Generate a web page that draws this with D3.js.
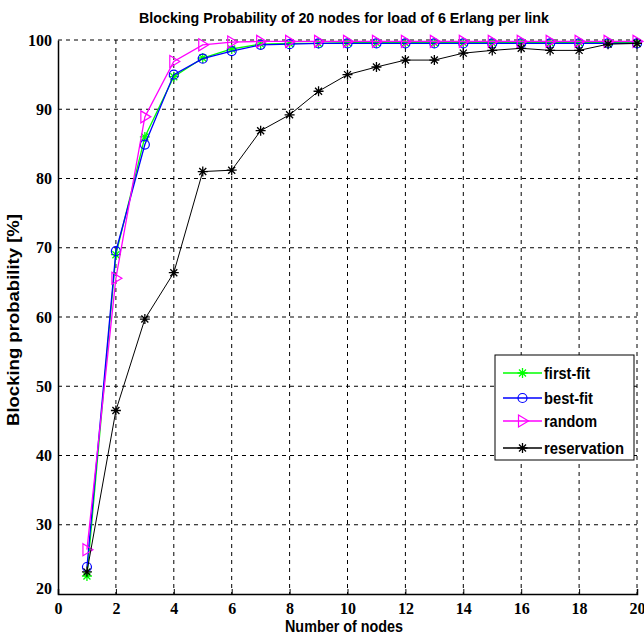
<!DOCTYPE html>
<html>
<head>
<meta charset="utf-8">
<script src="https://cdn.jsdelivr.net/npm/d3@7"></script>
<style>
  body { margin: 0; background: #fff; }
  svg { display: block; }
</style>
</head>
<body>
<div id="chart"></div>
<script>
    // Data
    var nodes = [1, 2, 3, 4, 5, 6, 7, 8, 9, 10, 11, 12, 13, 14, 15, 16, 17, 18, 19, 20];
    var firstFit = [22.6, 69.0, 86.0, 94.7, 97.4, 98.7, 99.4, 99.5, 99.5, 99.6, 99.6, 99.6, 99.6, 99.6, 99.6, 99.6, 99.6, 99.6, 99.6, 99.6];
    var bestFit = [23.9, 69.5, 84.9, 95.0, 97.3, 98.4, 99.3, 99.4, 99.5, 99.5, 99.5, 99.5, 99.5, 99.5, 99.5, 99.5, 99.5, 99.5, 99.5, 99.5];
    var random = [26.4, 65.6, 88.9, 96.9, 99.3, 99.7, 99.8, 99.8, 99.8, 99.8, 99.8, 99.8, 99.8, 99.8, 99.8, 99.8, 99.8, 99.8, 99.8, 99.8];
    var reservation = [23.2, 46.5, 59.7, 66.4, 81.0, 81.2, 86.9, 89.2, 92.6, 95.0, 96.1, 97.1, 97.1, 98.1, 98.5, 98.8, 98.5, 98.5, 99.4, 99.5];
    var seriesNames = ["first-fit", "best-fit", "random", "reservation"];
    var xTicks = [0, 2, 4, 6, 8, 10, 12, 14, 16, 18, 20];
    var yTicks = [20, 30, 40, 50, 60, 70, 80, 90, 100];

    var series = [
      { name: seriesNames[0], values: firstFit, color: "#00ff00", marker: "star" },
      { name: seriesNames[1], values: bestFit, color: "#0000ff", marker: "circle" },
      { name: seriesNames[2], values: random, color: "#ff00ff", marker: "triangle" },
      { name: seriesNames[3], values: reservation, color: "#000000", marker: "star" }
    ];

    var W = 644, H = 641;
    var margin = { top: 40, right: 7, bottom: 47, left: 58 };
    var width = W - margin.left - margin.right;
    var height = H - margin.top - margin.bottom;
    var narrow = "'Liberation Sans Narrow', 'Liberation Sans', Arial, sans-serif";

    var svg = d3.select("#chart").append("svg")
      .attr("width", W)
      .attr("height", H);

    var g = svg.append("g")
      .attr("transform", "translate(" + margin.left + "," + margin.top + ")");

    var xScale = d3.scaleLinear().domain([0, 20]).range([0, width]);
    var yScale = d3.scaleLinear().domain([20, 100]).range([height, 0]);

    // Grid lines (dashed)
    g.append("g").selectAll("line")
      .data(xTicks.slice(1))
      .enter().append("line")
      .attr("x1", function (d) { return xScale(d); })
      .attr("x2", function (d) { return xScale(d); })
      .attr("y1", 0).attr("y2", height)
      .attr("stroke", "#000").attr("stroke-width", 1)
      .attr("stroke-dasharray", "4,4");

    g.append("g").selectAll("line")
      .data(yTicks.slice(1))
      .enter().append("line")
      .attr("x1", 0).attr("x2", width)
      .attr("y1", function (d) { return yScale(d); })
      .attr("y2", function (d) { return yScale(d); })
      .attr("stroke", "#000").attr("stroke-width", 1)
      .attr("stroke-dasharray", "4,4");

    // Axes
    var xAxis = d3.axisBottom(xScale).tickValues(xTicks).tickSize(-5).tickPadding(9);
    var gx = g.append("g")
      .attr("transform", "translate(0," + height + ")")
      .call(xAxis);
    gx.attr("font-family", null);
    gx.select(".domain").attr("stroke-width", 1.5);
    gx.selectAll("text")
      .style("font-family", "'Liberation Serif', 'DejaVu Serif', serif")
      .style("font-weight", "bold")
      .style("font-size", "16px");

    var yAxis = d3.axisLeft(yScale).tickValues(yTicks).tickSize(0).tickPadding(6);
    var gy = g.append("g").call(yAxis);
    gy.attr("font-family", null);
    gy.select(".domain").attr("stroke-width", 1.5);
    gy.selectAll("text")
      .style("font-family", "'Liberation Serif', 'DejaVu Serif', serif")
      .style("font-weight", "bold")
      .style("font-size", "16px");
    gy.selectAll(".tick").filter(function (d) { return d === 20; })
      .select("text").attr("dy", "-0.05em");

    // Marker drawing
    function drawMarker(sel, type, color) {
      if (type === "circle") {
        sel.append("circle").attr("r", 4.5)
          .attr("fill", "none").attr("stroke", color).attr("stroke-width", 1.2);
      } else if (type === "triangle") {
        sel.append("path").attr("d", "M-4,-6L6,0L-4,6Z")
          .attr("fill", "none").attr("stroke", color).attr("stroke-width", 1.2);
      } else {
        sel.append("path").attr("d", "M-5,0L5,0M0,-5L0,5M-3.5,-3.5L3.5,3.5M-3.5,3.5L3.5,-3.5")
          .attr("fill", "none").attr("stroke", color).attr("stroke-width", 1.3);
      }
    }

    var line = d3.line()
      .x(function (d, i) { return xScale(nodes[i]); })
      .y(function (d) { return yScale(d); });

    series.forEach(function (s) {
      var sg = g.append("g");
      sg.append("path")
        .attr("d", line(s.values))
        .attr("fill", "none")
        .attr("stroke", s.color)
        .attr("stroke-width", s.color === "#000000" ? 1 : 1.3);
      sg.selectAll(".m")
        .data(s.values)
        .enter().append("g")
        .attr("transform", function (d, i) { return "translate(" + xScale(nodes[i]) + "," + yScale(d) + ")"; })
        .each(function () { drawMarker(d3.select(this), s.marker, s.color); });
    });

    // Title
    svg.append("text")
      .attr("x", 344).attr("y", 23)
      .attr("text-anchor", "middle")
      .attr("font-family", narrow)
      .attr("font-weight", "bold")
      .attr("font-size", 15)
      .attr("textLength", 410)
      .attr("lengthAdjust", "spacingAndGlyphs")
      .text("Blocking Probability of 20 nodes for load of 6 Erlang per link");

    // Axis labels
    svg.append("text")
      .attr("x", 344).attr("y", 632)
      .attr("text-anchor", "middle")
      .attr("font-family", narrow)
      .attr("font-weight", "bold")
      .attr("font-size", 16)
      .attr("textLength", 118)
      .attr("lengthAdjust", "spacingAndGlyphs")
      .text("Number of nodes");

    svg.append("text")
      .attr("transform", "translate(19,320) rotate(-90)")
      .attr("text-anchor", "middle")
      .attr("font-family", narrow)
      .attr("font-weight", "bold")
      .attr("font-size", 16)
      .attr("textLength", 212)
      .attr("lengthAdjust", "spacingAndGlyphs")
      .text("Blocking probability [%]");

    // Legend
    var legend = svg.append("g").attr("transform", "translate(495,355)");
    legend.append("rect")
      .attr("width", 139).attr("height", 105)
      .attr("fill", "#fff").attr("stroke", "#000").attr("stroke-width", 1);
    var legendY = [18, 43, 66, 93];
    var legendLen = [46, 49, 53, 80];
    series.forEach(function (s, i) {
      var row = legend.append("g").attr("transform", "translate(0," + legendY[i] + ")");
      row.append("line")
        .attr("x1", 8).attr("x2", 47)
        .attr("stroke", s.color).attr("stroke-width", 1.3);
      var mk = row.append("g").attr("transform", "translate(27.5,0)");
      drawMarker(mk, s.marker, s.color);
      row.append("text")
        .attr("x", 49).attr("y", 6)
        .attr("font-family", narrow)
        .attr("font-weight", "bold")
        .attr("font-size", 16)
        .attr("textLength", legendLen[i])
        .attr("lengthAdjust", "spacingAndGlyphs")
        .text(s.name);
    });
</script>
</body>
</html>
